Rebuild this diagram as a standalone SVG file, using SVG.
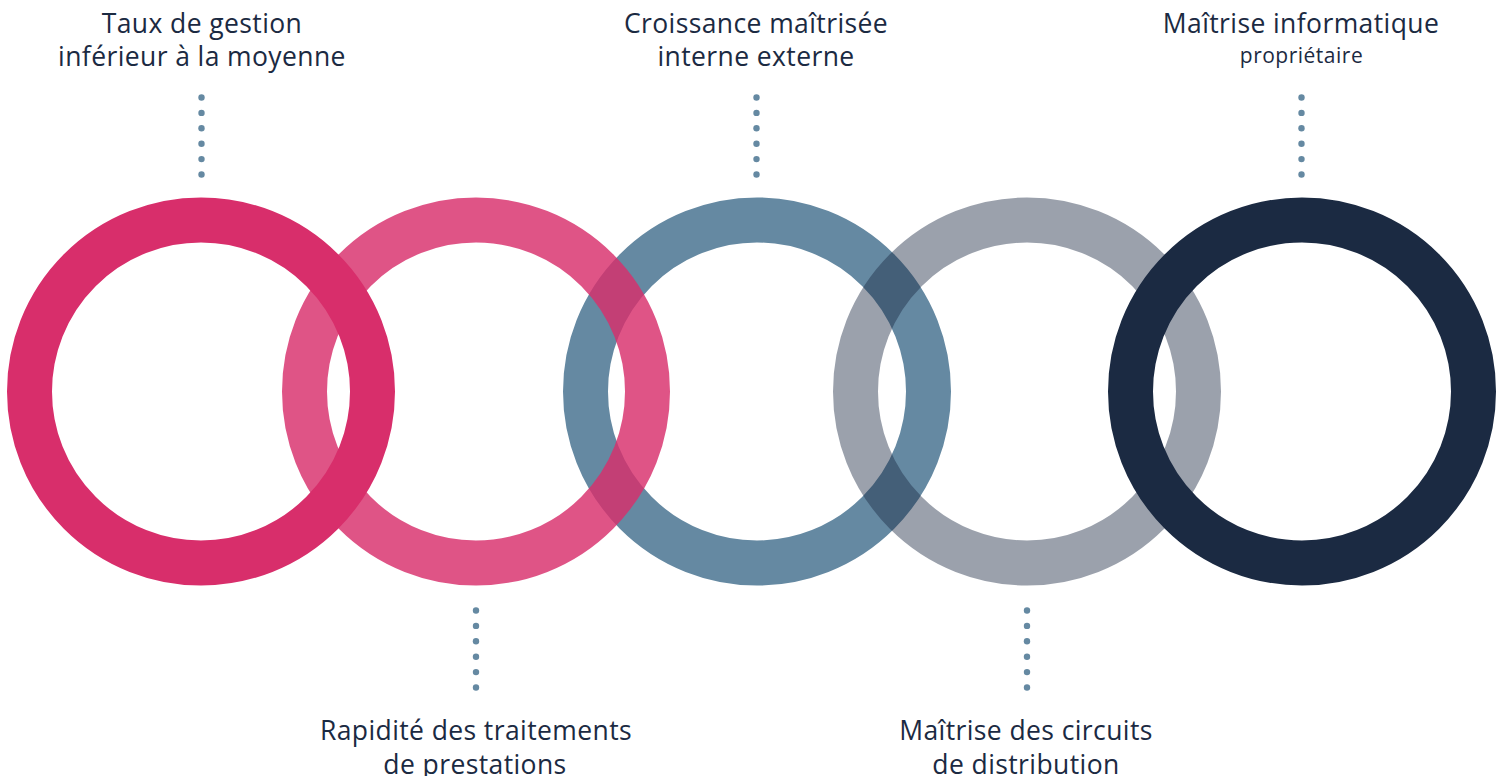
<svg xmlns="http://www.w3.org/2000/svg" width="1507" height="776" viewBox="0 0 1507 776">
<style>
.ring{fill:none;stroke-width:45}
.lbl{font-family:"Open Sans","Liberation Sans",sans-serif;font-size:26.5px;letter-spacing:0.4px;fill:#1B2A42;text-anchor:middle}
.sm{font-size:21px;letter-spacing:0.5px}
.dot{fill:#6589A2}
</style>
<defs>
<g id="dots">
<circle class="dot" cx="0" cy="0" r="3.2"/>
<circle class="dot" cx="0" cy="15.4" r="3.2"/>
<circle class="dot" cx="0" cy="30.8" r="3.2"/>
<circle class="dot" cx="0" cy="46.2" r="3.2"/>
<circle class="dot" cx="0" cy="61.6" r="3.2"/>
<circle class="dot" cx="0" cy="77" r="3.2"/>
</g>
</defs>
<rect width="1507" height="776" fill="#ffffff"/>
<g id="connectors">
<use href="#dots" x="201.5" y="97.5"/>
<use href="#dots" x="476" y="610.5"/>
<use href="#dots" x="756.5" y="97.5"/>
<use href="#dots" x="1027" y="610.5"/>
<use href="#dots" x="1301.5" y="97.5"/>
</g>
<g id="ring3"><circle class="ring" cx="757" cy="391.5" r="171.5" stroke="#6589A2"/></g>
<g id="ring2"><circle class="ring" cx="476" cy="391.5" r="171.5" stroke="#D82E6B" stroke-opacity="0.82"/></g>
<g id="ring1"><circle class="ring" cx="201" cy="391.5" r="171.5" stroke="#D82E6B"/></g>
<g id="ring4"><circle class="ring" cx="1027" cy="391.5" r="171.5" stroke="#1B2A42" stroke-opacity="0.44"/></g>
<g id="ring5"><circle class="ring" cx="1302" cy="391.5" r="171.5" stroke="#1B2A42"/></g>
<g id="label1">
<text class="lbl" x="202" y="33">Taux de gestion</text>
<text class="lbl" x="202" y="66">inférieur à la moyenne</text>
</g>
<g id="label2">
<text class="lbl" x="476" y="740">Rapidité des traitements</text>
<text class="lbl" x="475" y="774">de prestations</text>
</g>
<g id="label3">
<text class="lbl" x="756" y="33">Croissance maîtrisée</text>
<text class="lbl" x="756" y="66">interne externe</text>
</g>
<g id="label4">
<text class="lbl" x="1026" y="740">Maîtrise des circuits</text>
<text class="lbl" x="1026" y="774">de distribution</text>
</g>
<g id="label5">
<text class="lbl" x="1301" y="33">Maîtrise informatique</text>
<text class="lbl sm" x="1301.5" y="63">propriétaire</text>
</g>
</svg>
